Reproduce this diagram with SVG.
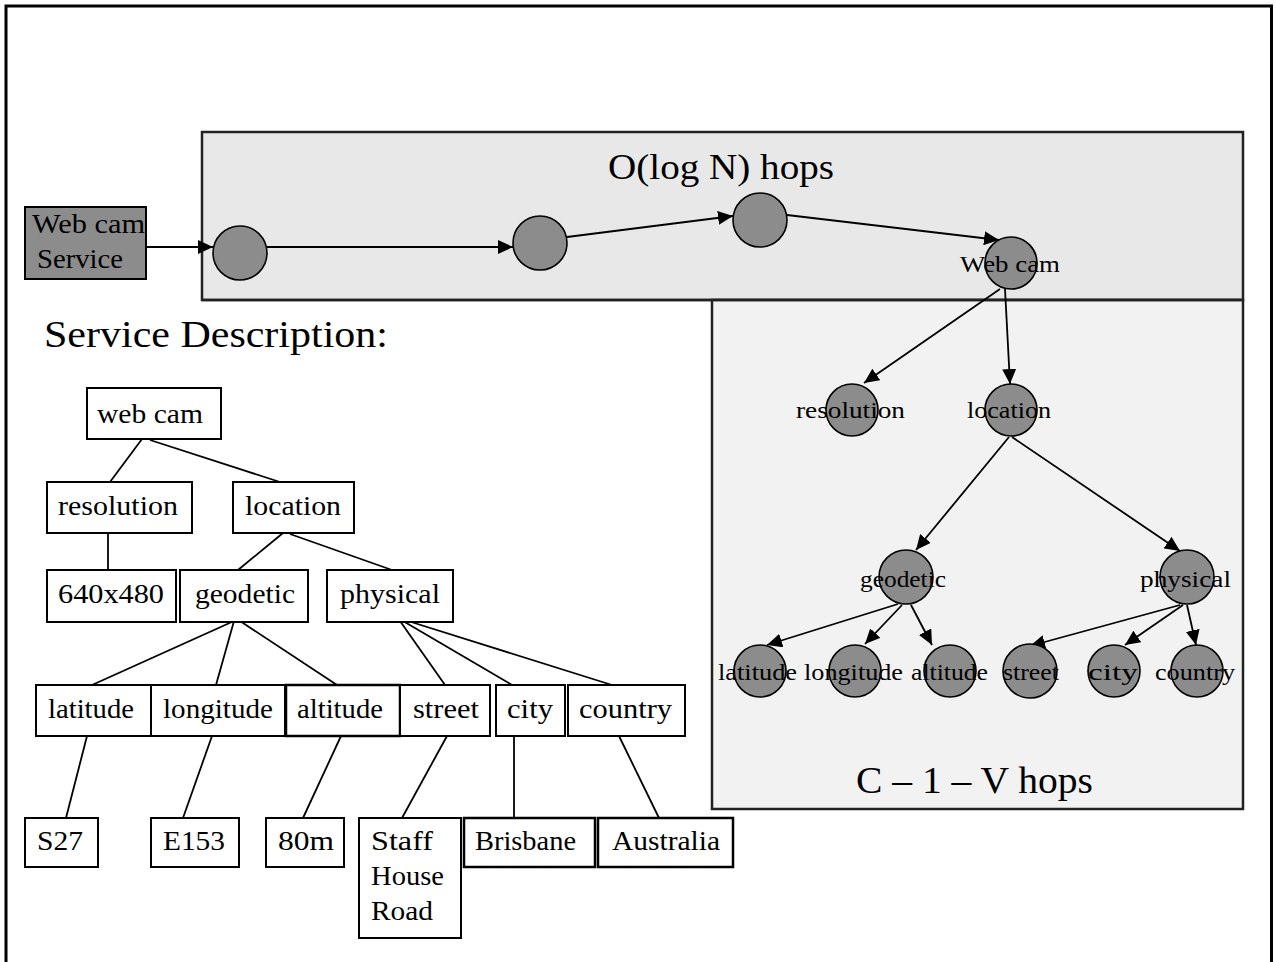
<svg xmlns="http://www.w3.org/2000/svg" width="1275" height="962" viewBox="0 0 1275 962">
  <style>
    text { font-family: "Liberation Serif", "Times New Roman", serif; fill: #000; }
    .box { fill: #fff; stroke: #000; stroke-width: 2; }
    .bt { font-size: 27px; }
    .ct { font-size: 24px; }
    .big { font-size: 38px; }
    .peer { fill: #8c8c8c; stroke: #000; stroke-width: 1.6; }
    .link { stroke: #000; stroke-width: 1.8; fill: none; }
    .edge { stroke: #000; stroke-width: 1.8; fill: none; marker-end: url(#arrow); }
    .panel { stroke: #222; stroke-width: 2.5; }
  </style>
  <defs>
    <marker id="arrow" markerUnits="userSpaceOnUse" markerWidth="16" markerHeight="14" refX="15" refY="7" orient="auto">
      <path d="M0,0 L15,7 L0,14 z" fill="#000"/>
    </marker>
  </defs>

  <!-- page frame -->
  <rect x="6" y="6" width="1265.5" height="980" fill="#fff" stroke="#000" stroke-width="3"/>

  <!-- overlay panels -->
  <rect id="routing-panel" class="panel" x="202" y="132" width="1041" height="168" fill="#e8e8e8"/>
  <rect id="subtree-panel" class="panel" x="712" y="300" width="531" height="509" fill="#f2f2f2"/>
  <line x1="202" y1="300" x2="1243" y2="300" stroke="#222" stroke-width="2.5"/>

  <text class="big" x="608" y="179" textLength="226" lengthAdjust="spacingAndGlyphs" style="font-size:36px">O(log N) hops</text>
  <text class="big" x="856" y="793" textLength="237" lengthAdjust="spacingAndGlyphs">C – 1 – V hops</text>
  <text class="big" x="44" y="347" textLength="344" lengthAdjust="spacingAndGlyphs">Service Description:</text>

  <!-- connectors -->
  <g id="connectors">
    <!-- routing path -->
    <line class="edge" x1="146" y1="247" x2="213" y2="247"/>
    <line class="edge" x1="267" y1="247" x2="513" y2="247"/>
    <line class="edge" x1="567" y1="237" x2="733" y2="216"/>
    <line class="edge" x1="787" y1="215" x2="999" y2="240"/>
    <!-- description subtree routing -->
    <line class="edge" x1="1000" y1="289" x2="864" y2="383"/>
    <line class="edge" x1="1005" y1="289" x2="1010" y2="384"/>
    <line class="edge" x1="1009" y1="437" x2="916" y2="550"/>
    <line class="edge" x1="1012" y1="437" x2="1180" y2="551"/>
    <line class="edge" x1="898" y1="604" x2="767" y2="645"/>
    <line class="edge" x1="902" y1="605" x2="865" y2="644"/>
    <line class="edge" x1="911" y1="605" x2="932" y2="645"/>
    <line class="edge" x1="1180" y1="605" x2="1030" y2="646"/>
    <line class="edge" x1="1183" y1="605" x2="1125" y2="645"/>
    <line class="edge" x1="1187" y1="605" x2="1196" y2="645"/>
    <!-- attribute tree -->
    <line class="link" x1="142" y1="439" x2="110" y2="482"/>
    <line class="link" x1="150" y1="440" x2="280" y2="482"/>
    <line class="link" x1="108" y1="533" x2="108" y2="570"/>
    <line class="link" x1="283" y1="533" x2="238" y2="570"/>
    <line class="link" x1="290" y1="534" x2="392" y2="570"/>
    <line class="link" x1="234" y1="621" x2="92" y2="685"/>
    <line class="link" x1="234" y1="621" x2="216" y2="685"/>
    <line class="link" x1="240" y1="621" x2="337" y2="685"/>
    <line class="link" x1="400" y1="621" x2="445" y2="685"/>
    <line class="link" x1="403" y1="621" x2="512" y2="685"/>
    <line class="link" x1="408" y1="621" x2="612" y2="685"/>
    <line class="link" x1="87" y1="736" x2="66" y2="818"/>
    <line class="link" x1="212" y1="736" x2="183" y2="818"/>
    <line class="link" x1="341" y1="736" x2="303" y2="818"/>
    <line class="link" x1="447" y1="736" x2="402" y2="818"/>
    <line class="link" x1="514" y1="736" x2="514" y2="818"/>
    <line class="link" x1="619" y1="736" x2="659" y2="818"/>
  </g>

  <!-- service origin -->
  <g id="webcam-service">
    <rect x="25" y="207" width="121" height="72" fill="#8c8c8c" stroke="#000" stroke-width="2"/>
    <text class="bt" x="32" y="233" textLength="113" lengthAdjust="spacingAndGlyphs">Web cam</text>
    <text class="bt" x="37" y="268" textLength="86" lengthAdjust="spacingAndGlyphs">Service</text>
  </g>

  <!-- routing peers -->
  <g id="hop-1"><circle class="peer" cx="240" cy="253" r="27"/></g>
  <g id="hop-2"><circle class="peer" cx="540" cy="243" r="27"/></g>
  <g id="hop-3"><circle class="peer" cx="760" cy="220" r="27"/></g>
  <g id="peer-webcam">
    <circle class="peer" cx="1011" cy="263" r="26"/>
    <text class="ct" x="960" y="272" textLength="100" lengthAdjust="spacingAndGlyphs">Web cam</text>
  </g>
  <g id="peer-resolution">
    <circle class="peer" cx="852" cy="410" r="26"/>
    <text class="ct" x="796" y="418" textLength="109" lengthAdjust="spacingAndGlyphs">resolution</text>
  </g>
  <g id="peer-location">
    <circle class="peer" cx="1011" cy="410" r="26"/>
    <text class="ct" x="967" y="418" textLength="84" lengthAdjust="spacingAndGlyphs">location</text>
  </g>
  <g id="peer-geodetic">
    <circle class="peer" cx="906" cy="577" r="27"/>
    <text class="ct" x="860" y="587" textLength="86" lengthAdjust="spacingAndGlyphs">geodetic</text>
  </g>
  <g id="peer-physical">
    <circle class="peer" cx="1187" cy="577" r="27"/>
    <text class="ct" x="1140" y="587" textLength="91" lengthAdjust="spacingAndGlyphs">physical</text>
  </g>
  <g id="peer-latitude">
    <circle class="peer" cx="760" cy="671" r="26"/>
    <text class="ct" x="718" y="680" textLength="79" lengthAdjust="spacingAndGlyphs">latitude</text>
  </g>
  <g id="peer-longitude">
    <circle class="peer" cx="855" cy="671" r="26"/>
    <text class="ct" x="804" y="680" textLength="99" lengthAdjust="spacingAndGlyphs">longitude</text>
  </g>
  <g id="peer-altitude">
    <circle class="peer" cx="950" cy="671" r="26"/>
    <text class="ct" x="911" y="680" textLength="77" lengthAdjust="spacingAndGlyphs">altitude</text>
  </g>
  <g id="peer-street">
    <circle class="peer" cx="1030" cy="671" r="27"/>
    <text class="ct" x="1003" y="680" textLength="56" lengthAdjust="spacingAndGlyphs">street</text>
  </g>
  <g id="peer-city">
    <circle class="peer" cx="1114" cy="671" r="26"/>
    <text class="ct" x="1088" y="680" textLength="50" lengthAdjust="spacingAndGlyphs">city</text>
  </g>
  <g id="peer-country">
    <circle class="peer" cx="1197" cy="671" r="26"/>
    <text class="ct" x="1155" y="680" textLength="80" lengthAdjust="spacingAndGlyphs">country</text>
  </g>

  <!-- attribute tree nodes -->
  <g id="attr-webcam">
    <rect class="box" x="87" y="388" width="134" height="51"/>
    <text class="bt" x="97" y="423" textLength="106" lengthAdjust="spacingAndGlyphs">web cam</text>
  </g>
  <g id="attr-resolution">
    <rect class="box" x="47" y="482" width="145" height="51"/>
    <text class="bt" x="58" y="515" textLength="120" lengthAdjust="spacingAndGlyphs">resolution</text>
  </g>
  <g id="attr-location">
    <rect class="box" x="233" y="482" width="121" height="51"/>
    <text class="bt" x="245" y="515" textLength="96" lengthAdjust="spacingAndGlyphs">location</text>
  </g>
  <g id="attr-640x480">
    <rect class="box" x="47" y="570" width="129" height="52"/>
    <text class="bt" x="58" y="603" textLength="106" lengthAdjust="spacingAndGlyphs">640x480</text>
  </g>
  <g id="attr-geodetic">
    <rect class="box" x="180" y="570" width="128" height="52"/>
    <text class="bt" x="195" y="603" textLength="100" lengthAdjust="spacingAndGlyphs">geodetic</text>
  </g>
  <g id="attr-physical">
    <rect class="box" x="327" y="570" width="126" height="52"/>
    <text class="bt" x="340" y="603" textLength="100" lengthAdjust="spacingAndGlyphs">physical</text>
  </g>
  <g id="attr-latitude">
    <rect class="box" x="36" y="685" width="115" height="51"/>
    <text class="bt" x="48" y="718" textLength="86" lengthAdjust="spacingAndGlyphs">latitude</text>
  </g>
  <g id="attr-longitude">
    <rect class="box" x="151" y="685" width="134" height="51"/>
    <text class="bt" x="163" y="718" textLength="110" lengthAdjust="spacingAndGlyphs">longitude</text>
  </g>
  <g id="attr-altitude">
    <rect class="box" x="286" y="685" width="114" height="51" style="stroke-width:2.5"/>
    <text class="bt" x="297" y="718" textLength="86" lengthAdjust="spacingAndGlyphs">altitude</text>
  </g>
  <g id="attr-street">
    <rect class="box" x="400" y="685" width="90" height="51"/>
    <text class="bt" x="413" y="718" textLength="66" lengthAdjust="spacingAndGlyphs">street</text>
  </g>
  <g id="attr-city">
    <rect class="box" x="496" y="685" width="69" height="51"/>
    <text class="bt" x="507" y="718" textLength="46" lengthAdjust="spacingAndGlyphs">city</text>
  </g>
  <g id="attr-country">
    <rect class="box" x="568" y="685" width="117" height="51"/>
    <text class="bt" x="579" y="718" textLength="93" lengthAdjust="spacingAndGlyphs">country</text>
  </g>
  <g id="attr-s27">
    <rect class="box" x="25" y="818" width="73" height="49"/>
    <text class="bt" x="37" y="850" textLength="46" lengthAdjust="spacingAndGlyphs">S27</text>
  </g>
  <g id="attr-e153">
    <rect class="box" x="151" y="818" width="88" height="49"/>
    <text class="bt" x="163" y="850" textLength="62" lengthAdjust="spacingAndGlyphs">E153</text>
  </g>
  <g id="attr-80m">
    <rect class="box" x="266" y="818" width="78" height="49"/>
    <text class="bt" x="278" y="850" textLength="56" lengthAdjust="spacingAndGlyphs">80m</text>
  </g>
  <g id="attr-street-name">
    <rect class="box" x="359" y="818" width="102" height="120"/>
    <text class="bt" x="371" y="850" textLength="62" lengthAdjust="spacingAndGlyphs">Staff</text>
    <text class="bt" x="371" y="885" textLength="73" lengthAdjust="spacingAndGlyphs">House</text>
    <text class="bt" x="371" y="920" textLength="62" lengthAdjust="spacingAndGlyphs">Road</text>
  </g>
  <g id="attr-brisbane">
    <rect class="box" x="464" y="818" width="131" height="49" style="stroke-width:2.5"/>
    <text class="bt" x="475" y="850" textLength="101" lengthAdjust="spacingAndGlyphs">Brisbane</text>
  </g>
  <g id="attr-australia">
    <rect class="box" x="598" y="818" width="135" height="49" style="stroke-width:2.5"/>
    <text class="bt" x="612" y="850" textLength="108" lengthAdjust="spacingAndGlyphs">Australia</text>
  </g>
</svg>
